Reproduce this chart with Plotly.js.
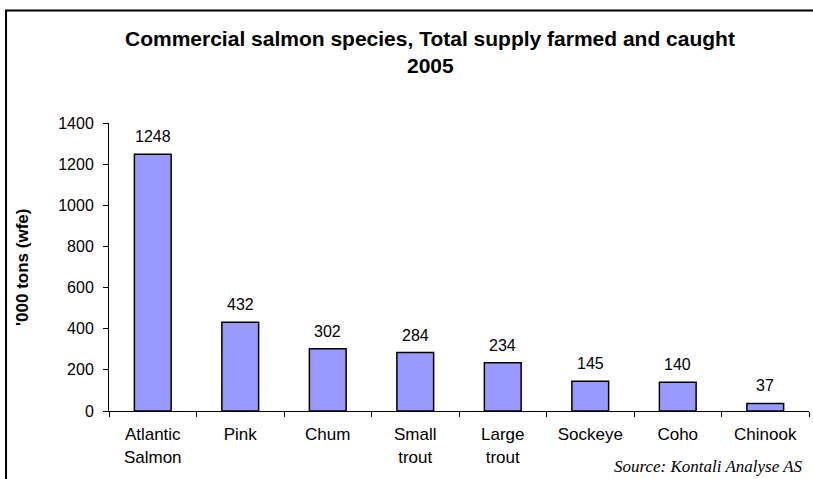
<!DOCTYPE html>
<html>
<head>
<meta charset="utf-8">
<script src="https://cdn.plot.ly/plotly-3.0.1.min.js"></script>
<style>html,body{margin:0;padding:0;background:#fff;}#chart{width:813px;height:479px;}</style>
</head>
<body>
<div id="chart"></div>
<script>
var categories = ["Atlantic<br>Salmon", "Pink", "Chum", "Small<br>trout", "Large<br>trout", "Sockeye", "Coho", "Chinook"];
var supply = [1248, 432, 302, 284, 234, 145, 140, 37];
var yTicks = [0, 200, 400, 600, 800, 1000, 1200, 1400];

var trace = {
  type: "bar",
  x: categories,
  y: supply,
  marker: {color: "#9999FF", line: {color: "#000", width: 1.5}},
  hoverinfo: "none"
};

var valueLabels = categories.map(function (c, i) {
  return {xref: "x", yref: "y", x: c, y: supply[i], text: String(supply[i]),
          showarrow: false, xanchor: "center", yanchor: "bottom", yshift: 7,
          font: {size: 16}};
});

var layout = {
  width: 813, height: 479,
  margin: {l: 109, r: 4, t: 123, b: 68},
  paper_bgcolor: "#fff", plot_bgcolor: "#fff",
  font: {family: "Liberation Sans, Arial, sans-serif", size: 16, color: "#000"},
  showlegend: false,
  bargap: 0.58,
  xaxis: {
    showline: true, linecolor: "#000", linewidth: 1,
    ticks: "outside", ticklen: 5, tickcolor: "#000", tickson: "boundaries",
    tickfont: {size: 17}, ticklabelstandoff: 8, showgrid: false, fixedrange: true
  },
  yaxis: {
    range: [0, 1400], tickvals: yTicks, ticktext: yTicks.map(String),
    showline: true, linecolor: "#000", linewidth: 1,
    ticks: "outside", ticklen: 5, tickcolor: "#000",
    tickfont: {size: 16}, ticklabelstandoff: 6, showgrid: false, zeroline: false, fixedrange: true
  },
  annotations: valueLabels.concat([
    {xref: "paper", yref: "paper", x: 0.4586, y: 1.2934, xanchor: "center", yanchor: "middle",
     text: "<b>Commercial salmon species, Total supply farmed and caught</b>",
     showarrow: false, font: {size: 21}},
    {xref: "paper", yref: "paper", x: 0.4586, y: 1.1997, xanchor: "center", yanchor: "middle",
     text: "<b>2005</b>", showarrow: false, font: {size: 21}},
    {xref: "paper", yref: "paper", x: -0.1243, y: 0.5, xanchor: "center", yanchor: "middle",
     text: "<b>'000 tons (wfe)</b>", textangle: -90, showarrow: false, font: {size: 17}},
    {xref: "paper", yref: "paper", x: 0.9943, y: -0.194, xanchor: "right", yanchor: "middle",
     text: "<i>Source: Kontali Analyse AS</i>", showarrow: false,
     font: {family: "Liberation Serif, Times New Roman, serif", size: 17}}
  ]),
  shapes: [
    {type: "rect", xref: "paper", yref: "paper", x0: -0.1471, x1: 1.3, y0: -0.5, y1: 1.391,
     line: {color: "#000", width: 2}, fillcolor: "rgba(0,0,0,0)", layer: "above"}
  ]
};

Plotly.newPlot("chart", [trace], layout, {displayModeBar: false, staticPlot: true});
</script>
</body>
</html>
